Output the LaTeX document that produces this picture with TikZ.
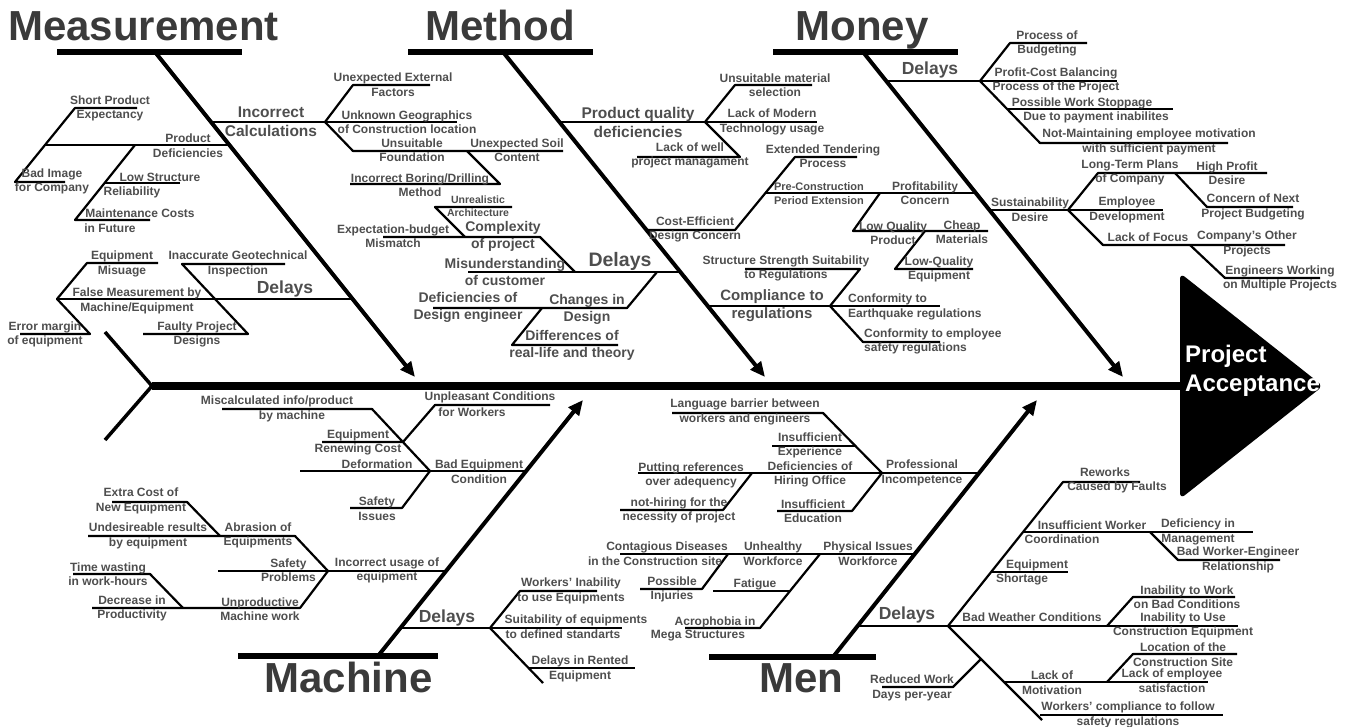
\documentclass[tikz,border=0pt]{standalone}
\usepackage{fontspec}
\setmainfont{Liberation Sans}
\usetikzlibrary{arrows.meta}
\definecolor{labelgray}{RGB}{78,78,78}
\definecolor{titlegray}{RGB}{58,58,58}
\tikzset{
    % Spine of the fish - very thick black line
    spine/.style={line width=8pt},
    % Tail fins
    tail fin/.style={line width=3.5pt},
    % Bars under the category titles
    bar/.style={line width=6pt},
    % Category bones running into the spine
    bone/.style={line width=4pt, -{Triangle[length=15pt,width=13pt]}},
    % Cause and sub-cause lines
    twig/.style={line width=2.2pt, line join=round},
    % Small cause text - gray bold
    cause/.style={text=labelgray, font=\fontsize{12}{14.5}\selectfont\bfseries, align=center, inner sep=0pt},
    % Medium and large cause text
    mid cause/.style={cause, font=\fontsize{14}{17}\selectfont\bfseries},
    big cause/.style={cause, font=\fontsize{15.5}{19}\selectfont\bfseries},
    delay text/.style={cause, font=\fontsize{17.5}{20}\selectfont\bfseries},
    % Category titles
    title text/.style={text=titlegray, font=\fontsize{42}{46}\selectfont\bfseries, inner sep=0pt},
    % Effect text in the head
    goal text/.style={text=white, font=\fontsize{24}{29}\selectfont\bfseries, align=left, inner sep=0pt}
}
\begin{document}
\begin{tikzpicture}[x=1pt, y=-1pt]
    \useasboundingbox (0,0) rectangle (1349,727);

    % --- Spine and head ---
    \coordinate (tail) at (152,386);
    \coordinate (head) at (1180,386);
    \draw[spine] (tail) -- (head);
    \draw[tail fin] (105,332) -- (tail) -- (105,440);
    \fill[rounded corners=6pt] (1180,273) -- (1323,386) -- (1180,499) -- cycle;
    \node[goal text, anchor=west] (goal) at (1185,371) {Project\\Acceptance};

    % --- Category bars and bones ---
    \coordinate (meas) at (155,52);
    \coordinate (meth) at (503,52);
    \coordinate (mone) at (863,52);
    \coordinate (mach) at (378,656);
    \coordinate (men) at (833,657);
    \draw[bar] (57,52) -- (242,52);
    \draw[bar] (408,52) -- (593,52);
    \draw[bar] (773,52) -- (958,52);
    \draw[bar] (238,656) -- (438,656);
    \draw[bar] (709,657) -- (876,657);
    \draw[bone] (meas) -- (415,377);
    \draw[bone] (meth) -- (765,377);
    \draw[bone] (mone) -- (1123,377);
    \draw[bone] (mach) -- (583,400);
    \draw[bone] (men) -- (1037,400);

    \node[title text, anchor=base] (t-meas) at (143.5,41) {Measurement};
    \node[title text, anchor=base] (t-meth) at (500,41) {Method};
    \node[title text, anchor=base] (t-mone) at (862,41) {Money};
    \node[title text, anchor=base] (t-mach) at (348.5,692) {Machine};
    \node[title text, anchor=base] (t-men) at (801.5,692) {Men};

    % --- Measurement ---
    \coordinate (ic) at (325,122);
    \draw[twig] (211,122) -- (ic) -- (457,122);
    \draw[twig] (ic) -- (353,85) -- (430,85);
    \draw[twig] (ic) -- (353,151) -- (563,151);
    \draw[twig] (467,151) -- (500,184) -- (350,184);
    \coordinate (pd) at (45,145);
    \draw[twig] (229,145) -- (pd);
    \draw[twig] (137,108) -- (75,108) -- (pd) -- (15,182) -- (65,182);
    \draw[twig] (135,145) -- (75,220) -- (150,220);
    \draw[twig] (105,183) -- (180,183);
    \coordinate (md) at (57,299);
    \draw[twig] (353,299) -- (md);
    \draw[twig] (158,263) -- (87,263) -- (md) -- (90,334) -- (20,334);
    \draw[twig] (285,264) -- (182,264) -- (248,334) -- (143,334);

    \node[big cause] (calc) at (271,121.5) {Incorrect\\Calculations};
    \node[cause] (ext) at (393,84.5) {Unexpected External\\Factors};
    \node[cause] (geo) at (407,122) {Unknown Geographics\\of Construction location};
    \node[cause] (found) at (412,150) {Unsuitable\\Foundation};
    \node[cause] (soil) at (517,150) {Unexpected Soil\\Content};
    \node[cause] (bore) at (420,185) {Incorrect Boring/Drilling\\Method};
    \node[cause] (short) at (110,108.5) {Short Product\\Expectancy};
    \node[cause] (prod) at (188,145.5) {Product\\Deficiencies};
    \node[cause] (image) at (52,181.5) {Bad Image\\for Company};
    \node[cause] (low1) at (160,177) {Low Structure};
    \node[cause] (low2) at (132,192) {Reliability};
    \node[cause] (maint1) at (140,213) {Maintenance Costs};
    \node[cause] (maint2) at (110,228) {in Future};
    \node[delay text] (d-meas) at (285,289) {Delays};
    \node[cause] (misuse) at (122,264) {Equipment\\Misuage};
    \node[cause] (geotech) at (238,264) {Inaccurate Geotechnical\\Inspection};
    \node[cause] (false) at (137,301) {False Measurement by\\Machine/Equipment};
    \node[cause] (margin) at (45,334.5) {Error margin\\of equipment};
    \node[cause] (faulty) at (197,334.5) {Faulty Project\\Designs};

    % --- Method ---
    \coordinate (dl) at (575,272);
    \draw[twig] (681,272) -- (468,272);
    \draw[twig] (dl) -- (540,237) -- (383,237);
    \draw[twig] (465,237) -- (435,207) -- (512,207);
    \draw[twig] (657,272) -- (627,308) -- (433,308);
    \draw[twig] (542,308) -- (512,345) -- (618,345);
    \coordinate (pq) at (705,122);
    \draw[twig] (560,122) -- (pq) -- (817,122);
    \draw[twig] (pq) -- (735,85) -- (812,85);
    \draw[twig] (pq) -- (740,157) -- (637,157);
    \draw[twig] (647,230) -- (735,230) -- (795,157) -- (857,157);
    \draw[twig] (976,193) -- (765,193);
    \draw[twig] (880,193) -- (853,231) -- (988,231);
    \draw[twig] (925,231) -- (895,269) -- (973,269);
    \coordinate (cr) at (830,306);
    \draw[twig] (708,306) -- (cr) -- (940,306);
    \draw[twig] (745,269) -- (860,269) -- (cr) -- (863,342) -- (940,342);

    \node[cause, font=\fontsize{10.5}{12.5}\selectfont\bfseries] (arch) at (478,206) {Unrealistic\\Architecture};
    \node[cause] (budget) at (393,236) {Expectation-budget\\Mismatch};
    \node[mid cause] (complex) at (503,236.5) {Complexity\\of project};
    \node[mid cause] (custom) at (505,271.5) {Misunderstanding\\of customer};
    \node[delay text, font=\fontsize{19.5}{22}\selectfont\bfseries] (d-meth) at (620,261) {Delays};
    \node[mid cause] (engin) at (468,307.5) {Deficiencies of\\Design engineer};
    \node[mid cause] (change) at (587,309.5) {Changes in\\Design};
    \node[mid cause] (theory) at (572,345.5) {Differences of\\real-life and theory};
    \node[big cause] (quality) at (638,122) {Product quality\\deficiencies};
    \node[cause] (material) at (775,85) {Unsuitable material\\selection};
    \node[cause] (modern) at (772,122) {Lack of Modern\\Technology usage};
    \node[cause] (manage) at (690,155.5) {Lack of well\\project managament};
    \node[cause] (tender) at (823,156) {Extended Tendering\\Process};
    \node[cause] (costeff) at (695,229.5) {Cost-Efficient\\Design Concern};
    \node[cause, font=\fontsize{11}{13.5}\selectfont\bfseries] (precon) at (819,193.5) {Pre-Construction\\Period Extension};
    \node[cause] (strength) at (786,268.5) {Structure Strength Suitability\\to Regulations};
    \node[big cause, font=\fontsize{15}{18}\selectfont\bfseries] (comply) at (772,306) {Compliance to\\regulations};
    \node[cause, align=left, anchor=west] (quake) at (848,307) {Conformity to\\Earthquake regulations};
    \node[cause, align=left, anchor=west] (safe) at (864,341.5) {Conformity to employee\\safety regulations};

    % --- Money ---
    \coordinate (yd) at (980,81);
    \draw[twig] (886,81) -- (yd) -- (1117,81);
    \draw[twig] (1087,43) -- (1010,43) -- (yd) -- (1040,143) -- (1228,143);
    \draw[twig] (1007,109) -- (1173,109);
    \coordinate (sd) at (1068,210);
    \draw[twig] (989,210) -- (sd) -- (1163,210);
    \draw[twig] (1267,173) -- (1098,173) -- (sd) -- (1103,245) -- (1285,245);
    \draw[twig] (1175,173) -- (1207,207) -- (1293,207);
    \draw[twig] (1190,245) -- (1225,278) -- (1320,278);

    \node[delay text] (d-mone) at (930,70) {Delays};
    \node[cause] (budg) at (1047,43.5) {Process of\\Budgeting};
    \node[cause] (balance) at (1056,80.5) {Profit-Cost Balancing\\Process of the Project};
    \node[cause] (stop1) at (1082,103) {Possible Work Stoppage};
    \node[cause] (stop2) at (1096,117) {Due to payment inabilites};
    \node[cause] (motiv) at (1149,142) {Not-Maintaining employee motivation\\with sufficient payment};
    \node[cause] (profit) at (925,193) {Profitability\\Concern};
    \node[cause] (lowprod) at (893,233) {Low Quality\\Product};
    \node[cause] (cheap) at (962,232) {Cheap\\Materials};
    \node[cause] (lowequip) at (939,269.5) {Low-Quality\\Equipment};
    \node[cause] (sustain) at (1030,209.5) {Sustainability\\Desire};
    \node[cause] (plans) at (1130,172.5) {Long-Term Plans\\of Company};
    \node[cause] (high) at (1227,173) {High Profit\\Desire};
    \node[cause] (next) at (1253,207) {Concern of Next\\Project Budgeting};
    \node[cause] (develop) at (1127,210) {Employee\\Development};
    \node[cause] (focus) at (1148,237) {Lack of Focus};
    \node[cause] (other) at (1247,244) {Company's Other\\Projects};
    \node[cause] (multi) at (1280,278.5) {Engineers Working\\on Multiple Projects};

    % --- Machine ---
    \coordinate (be) at (430,471);
    \draw[twig] (527,471) -- (300,471);
    \draw[twig] (222,409) -- (372,409) -- (be) -- (402,508) -- (350,508);
    \draw[twig] (322,442) -- (403,442) -- (435,405) -- (550,405);
    \coordinate (iu) at (328,571);
    \draw[twig] (446,571) -- (218,571);
    \draw[twig] (88,536) -- (295,536) -- (iu) -- (300,608) -- (92,608);
    \draw[twig] (220,536) -- (187,502) -- (112,502);
    \draw[twig] (183,608) -- (150,574) -- (73,574);
    \coordinate (cd) at (490,628);
    \draw[twig] (400,628) -- (cd) -- (622,628);
    \draw[twig] (597,591) -- (520,591) -- (cd) -- (543,683);
    \draw[twig] (529,668) -- (635,668);

    \node[cause] (miscalc1) at (277,401) {Miscalculated info/product};
    \node[cause] (miscalc2) at (292,416) {by machine};
    \node[cause] (unpleas1) at (490,397) {Unpleasant Conditions};
    \node[cause] (unpleas2) at (472,412) {for Workers};
    \node[cause] (renew) at (358,442.5) {Equipment\\Renewing Cost};
    \node[cause] (deform) at (377,464) {Deformation};
    \node[cause] (badeq) at (479,471.5) {Bad Equipment\\Condition};
    \node[cause] (issues) at (377,508.5) {Safety\\Issues};
    \node[cause] (extra) at (141,501) {Extra Cost of\\New Equipment};
    \node[cause] (undes) at (148,536) {Undesireable results\\by equipment};
    \node[cause] (abras) at (258,535.5) {Abrasion of\\Equipments};
    \node[cause] (probl) at (288.5,570) {Safety\\Problems};
    \node[cause] (usage) at (387,570.5) {Incorrect usage of\\equipment};
    \node[cause] (waste) at (108,574) {Time wasting\\in work-hours};
    \node[cause] (decr) at (132,608.5) {Decrease in\\Productivity};
    \node[cause] (unprod) at (260,609) {Unproductive\\Machine work};
    \node[delay text] (d-mach) at (447,618) {Delays};
    \node[cause] (inab) at (571,591) {Workers' Inability\\to use Equipments};
    \node[cause] (suit1) at (576,620) {Suitability of equipments};
    \node[cause] (suit2) at (563,634) {to defined standarts};
    \node[cause] (rent) at (580,669) {Delays in Rented\\Equipment};

    % --- Men ---
    \coordinate (pi) at (882,473);
    \draw[twig] (979,473) -- (pi) -- (638,473);
    \draw[twig] (672,413) -- (823,413) -- (pi) -- (852,511) -- (777,511);
    \draw[twig] (855,446) -- (772,446);
    \draw[twig] (752,473) -- (723,510) -- (620,510);
    \draw[twig] (915,554) -- (620,554);
    \draw[twig] (728,554) -- (702,589) -- (640,589);
    \draw[twig] (820,554) -- (760,628) -- (685,628);
    \draw[twig] (790,591) -- (713,591);
    \coordinate (nd) at (948,626);
    \draw[twig] (858,626) -- (nd) -- (1238,626);
    \draw[twig] (1140,482) -- (1063,482) -- (nd) -- (1042,720);
    \draw[twig] (1024,532) -- (1253,532);
    \draw[twig] (1150,532) -- (1178,560) -- (1280,560);
    \draw[twig] (992,572) -- (1068,572);
    \draw[twig] (1107,626) -- (1133,597) -- (1235,597);
    \draw[twig] (1005,682) -- (1208,682);
    \draw[twig] (1107,682) -- (1133,654) -- (1237,654);
    \draw[twig] (1040,715) -- (1223,715);
    \draw[twig] (981,659) -- (953,687) -- (882,687);

    \node[cause] (lang) at (745,412) {Language barrier between\\workers and engineers};
    \node[cause] (exper) at (810,445.5) {Insufficient\\Experience};
    \node[cause] (refs) at (691,475.5) {Putting references\\over adequency};
    \node[cause] (hiring) at (810,474.5) {Deficiencies of\\Hiring Office};
    \node[cause] (prof) at (922,473) {Professional\\Incompetence};
    \node[cause] (nothire) at (679,510.5) {not-hiring for the\\necessity of project};
    \node[cause] (educ) at (813,511) {Insufficient\\Education};
    \node[cause] (conta1) at (667,547) {Contagious Diseases};
    \node[cause] (conta2) at (655,561) {in the Construction site};
    \node[cause] (unheal) at (773,553.5) {Unhealthy\\Workforce};
    \node[cause] (phys) at (868,553.5) {Physical Issues\\Workforce};
    \node[cause] (injur) at (672,589.5) {Possible\\Injuries};
    \node[cause] (fatig) at (755,584) {Fatigue};
    \node[cause] (acro1) at (715,622) {Acrophobia in};
    \node[cause] (acro2) at (698,636) {Mega Structures};
    \node[delay text] (d-men) at (907,615) {Delays};
    \node[cause] (reduc) at (912,688) {Reduced Work\\Days per-year};
    \node[cause] (rework1) at (1105,472) {Reworks};
    \node[cause] (rework2) at (1117,487) {Caused by Faults};
    \node[cause] (coord1) at (1092,525) {Insufficient Worker};
    \node[cause] (coord2) at (1062,539) {Coordination};
    \node[cause] (mgmt) at (1198,532) {Deficiency in\\Management};
    \node[cause] (relat) at (1238,560) {Bad Worker-Engineer\\Relationship};
    \node[cause] (short1) at (1037,565) {Equipment};
    \node[cause] (short2) at (1022,579) {Shortage};
    \node[cause] (weather) at (1032,617) {Bad Weather Conditions};
    \node[cause] (work) at (1187,597) {Inability to Work\\on Bad Conditions};
    \node[cause] (use) at (1183,625.5) {Inability to Use\\Construction Equipment};
    \node[cause] (locat) at (1183,654.5) {Location of the\\Construction Site};
    \node[cause] (lackmot) at (1052,682.5) {Lack of\\Motivation};
    \node[cause] (satis) at (1172,680.5) {Lack of employee\\satisfaction};
    \node[cause] (follow) at (1128,715) {Workers' compliance to follow\\safety regulations};

\end{tikzpicture}
\end{document}
